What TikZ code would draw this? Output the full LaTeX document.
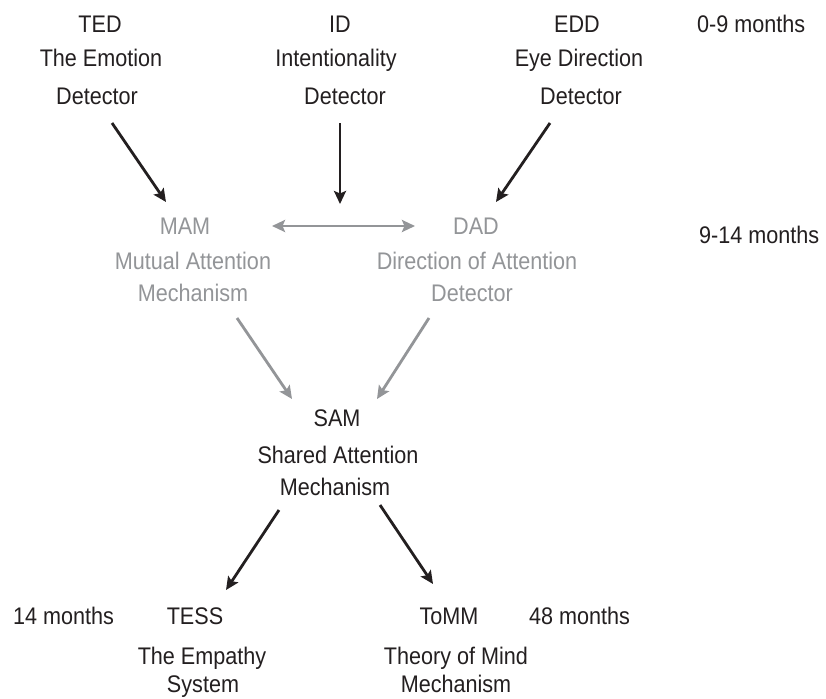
\documentclass[tikz,border=0pt]{standalone}
\usepackage{fontspec}
\setmainfont[FakeStretch=0.9]{Liberation Sans}
\usetikzlibrary{arrows.meta}
\definecolor{ink}{HTML}{231F20}
\definecolor{gry}{HTML}{939598}
\begin{document}
\begin{tikzpicture}[x=1pt,y=-1pt,
  lbl/.style={inner sep=0pt, anchor=base, font=\fontsize{24}{34}\selectfont, text=ink},
  glbl/.style={lbl, text=gry},
  lft/.style={lbl, anchor=base west},
  blk/.style={draw=ink, line width=2.8pt, -{Stealth[length=13pt,width=12pt,inset=2.5pt]}},
  gar/.style={draw=gry, line width=2.8pt, -{Stealth[length=13pt,width=12pt,inset=2.5pt]}},
  gboth/.style={draw=gry, line width=2.8pt, {Stealth[length=13pt,width=12pt,inset=2.5pt]}-{Stealth[length=13pt,width=12pt,inset=2.5pt]}}
]
\useasboundingbox[fill=white] (0,0) rectangle (826,698);

% top row
\node[lbl] (ted) at (100,33) {TED};
\node[lbl] (ted1) at (101,67) {The Emotion};
\node[lbl] (ted2) at (97,104) {Detector};
\node[lbl] (id) at (340,33) {ID};
\node[lbl] (id1) at (336,67) {Intentionality};
\node[lbl] (id2) at (345,104) {Detector};
\node[lbl] (edd) at (577,33) {EDD};
\node[lbl] (edd1) at (579,67) {Eye Direction};
\node[lbl] (edd2) at (581,104) {Detector};
\node[lft] (age1) at (697,33) {0-9 months};

% middle row
\node[glbl] (mam) at (185,234) {MAM};
\node[glbl] (mam1) at (193,269) {Mutual Attention};
\node[glbl] (mam2) at (193,301) {Mechanism};
\node[glbl] (dad) at (476,234) {DAD};
\node[glbl] (dad1) at (477,269) {Direction of Attention};
\node[glbl] (dad2) at (472,301) {Detector};
\node[lft] (age2) at (699,243) {9-14 months};

% SAM
\node[lbl] (sam) at (337,426) {SAM};
\node[lbl] (sam1) at (338,463) {Shared Attention};
\node[lbl] (sam2) at (335,495) {Mechanism};

% bottom row
\node[lft] (age3) at (13,624) {14 months};
\node[lbl] (tess) at (195,624) {TESS};
\node[lbl] (tess1) at (202,664) {The Empathy};
\node[lbl] (tess2) at (203,692) {System};
\node[lbl] (tomm) at (449,624) {ToMM};
\node[lft] (age4) at (529,624) {48 months};
\node[lbl] (tomm1) at (456,664) {Theory of Mind};
\node[lbl] (tomm2) at (456,692) {Mechanism};

% connectors
\draw[gboth] ([shift={(87,-8)}]mam.base) -- ([shift={(-61,-8)}]dad.base) coordinate[midway] (mid);
\draw[blk] ([shift={(15,19)}]ted2.base) -- ([shift={(-19,-32)}]mam.base);
\draw[blk] ([shift={(-5,19)}]id2.base) -- ([shift={(-3.5,-22)}]mid);
\draw[blk] ([shift={(-31,19)}]edd2.base) -- ([shift={(20,-32)}]dad.base);
\draw[gar] ([shift={(44,17)}]mam2.base) -- ([shift={(-45,-27)}]sam.base);
\draw[gar] ([shift={(-43,17)}]dad2.base) -- ([shift={(40,-27)}]sam.base);
\draw[blk] ([shift={(-56,15)}]sam2.base) -- ([shift={(31,-34)}]tess.base);
\draw[blk] ([shift={(45,10)}]sam2.base) -- ([shift={(-16,-40)}]tomm.base);
\end{tikzpicture}
\end{document}
